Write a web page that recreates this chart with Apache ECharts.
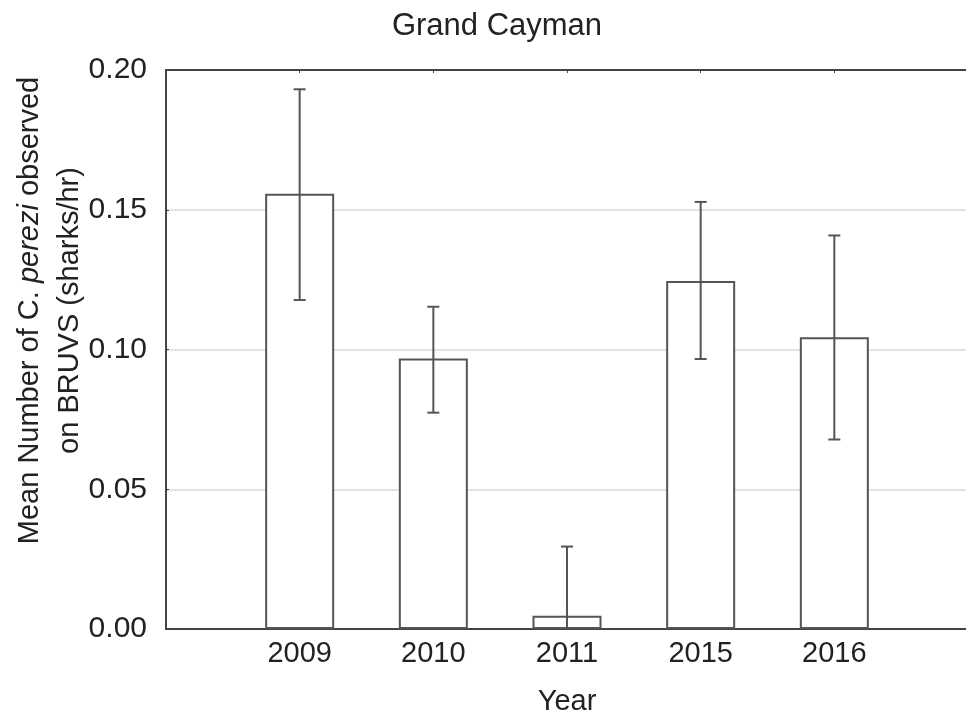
<!DOCTYPE html>
<html>
<head>
<meta charset="utf-8">
<script src="https://cdn.jsdelivr.net/npm/echarts@6/dist/echarts.min.js"></script>
<style>
  html, body { margin: 0; padding: 0; background: #fff; }
  #chart { width: 966px; height: 721px; }
</style>
</head>
<body>
<div id="chart"></div>
<script>
var years = ['', '2009', '2010', '2011', '2015', '2016', ''];
var means = [null, 0.1557, 0.0968, 0.0047, 0.1245, 0.1044, null];
var errLow = [null, 0.1177, 0.0774, -0.0200, 0.0966, 0.0678, null];
var errHigh = [null, 0.1931, 0.1153, 0.0295, 0.1528, 0.1408, null];
var yTicks = [0, 0.05, 0.10, 0.15, 0.20];

var errData = [];
for (var i = 0; i < years.length; i++) {
    if (means[i] !== null) errData.push([i, errLow[i], errHigh[i]]);
}

var ink = '#555';
var font = 'Liberation Sans, Arial, sans-serif';

var chart = echarts.init(document.getElementById('chart'));
var option = {
    animation: false,
    title: {
        text: 'Grand Cayman',
        left: 492,
        textAlign: 'center',
        top: 6,
        textStyle: { fontFamily: font, fontSize: 31, fontWeight: 'normal', color: '#222' }
    },
    grid: {
        left: 166, right: -2, top: 70, bottom: 92,
        outerBoundsMode: 'none',
        containLabel: false,
        show: true, borderColor: '#444', borderWidth: 2
    },
    xAxis: [{
        type: 'category',
        data: years,
        boundaryGap: false,
        name: 'Year',
        nameLocation: 'middle',
        nameGap: 58,
        nameTextStyle: { fontFamily: font, fontSize: 29, color: '#222' },
        axisLine: { lineStyle: { color: '#444', width: 2 } },
        axisTick: { show: true, inside: true, length: 3, alignWithLabel: true, lineStyle: { color: '#444' } },
        axisLabel: { fontFamily: font, fontSize: 29, color: '#222', margin: 10 },
        splitLine: { show: false }
    }, {
        type: 'category',
        data: years,
        boundaryGap: false,
        position: 'top',
        axisLine: { show: true, lineStyle: { color: '#444', width: 2 } },
        axisTick: { show: true, inside: true, length: 3, lineStyle: { color: '#444' } },
        axisLabel: { show: false },
        splitLine: { show: false }
    }],
    yAxis: {
        type: 'value',
        min: 0,
        max: 0.2,
        interval: 0.05,
        name: '{n|Mean Number of C. }{i|perezi}{n| observed}\n{n|on BRUVS (sharks/hr)}',
        nameLocation: 'middle',
        nameRotate: 90,
        nameGap: 76,
        nameMoveOverlap: false,
        nameTextStyle: {
            fontFamily: font, fontSize: 29, color: '#222', lineHeight: 40,
            padding: [0, 0, 0, 78],
            rich: {
                n: { fontFamily: font, fontSize: 29, color: '#222', lineHeight: 40 },
                i: { fontFamily: font, fontSize: 29, color: '#222', fontStyle: 'italic', lineHeight: 40 }
            }
        },
        axisLine: { show: true, lineStyle: { color: '#444', width: 2 } },
        axisTick: { show: true, inside: true, length: 3, lineStyle: { color: '#444' } },
        axisLabel: {
            fontFamily: font, fontSize: 30, color: '#222', margin: 19,
            formatter: function (v) {
                for (var k = 0; k < yTicks.length; k++) {
                    if (Math.abs(v - yTicks[k]) < 1e-9) return yTicks[k].toFixed(2);
                }
                return '';
            }
        },
        splitLine: { show: true, showMinLine: false, showMaxLine: false, lineStyle: { color: '#e2e2e2', width: 2 } }
    },
    series: [
        {
            type: 'bar',
            data: means,
            barWidth: 69,
            itemStyle: { color: '#fff', borderColor: ink, borderWidth: 2 },
            z: 2
        },
        {
            type: 'custom',
            data: errData,
            z: 3,
            renderItem: function (params, api) {
                var x = api.value(0);
                var lo = api.value(1);
                var hi = api.value(2);
                var pHi = api.coord([x, hi]);
                var pLo = api.coord([x, Math.max(lo, 0)]);
                var cap = 6;
                var kids = [
                    { type: 'line', shape: { x1: pHi[0], y1: pHi[1], x2: pLo[0], y2: pLo[1] },
                      style: { stroke: ink, lineWidth: 2 } },
                    { type: 'line', shape: { x1: pHi[0] - cap, y1: pHi[1], x2: pHi[0] + cap, y2: pHi[1] },
                      style: { stroke: ink, lineWidth: 2 } }
                ];
                if (lo >= 0) {
                    kids.push({ type: 'line', shape: { x1: pLo[0] - cap, y1: pLo[1], x2: pLo[0] + cap, y2: pLo[1] },
                      style: { stroke: ink, lineWidth: 2 } });
                }
                return { type: 'group', children: kids };
            }
        }
    ]
};
chart.setOption(option);
</script>
</body>
</html>
